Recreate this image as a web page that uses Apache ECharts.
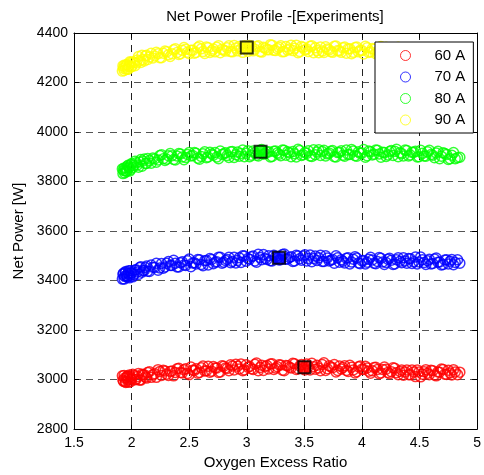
<!DOCTYPE html>
<html>
<head>
<meta charset="utf-8">
<title>Net Power Profile</title>
<script src="https://cdn.jsdelivr.net/npm/echarts@6/dist/echarts.min.js"></script>
<style>
    html, body { margin: 0; padding: 0; background: #fff; }
    #chart { width: 484px; height: 475px; }
</style>
</head>
<body>
<div id="chart"></div>
<script>
    // oxygen excess ratio of the samples, two sweeps
    var ratio = [1.92,1.93,1.94,1.95,1.96,1.97,1.98,1.99,2.00,2.02,
        2.04,2.06,2.08,2.10,2.12,2.14,2.17,2.20,2.23,2.26,
        2.29,2.32,2.35,2.38,2.41,2.44,2.47,2.50,2.53,2.56,
        2.59,2.62,2.65,2.68,2.71,2.74,2.77,2.80,2.83,2.86,
        2.89,2.92,2.95,2.98,3.01,3.04,3.07,3.10,3.13,3.16,
        3.19,3.22,3.25,3.28,3.31,3.34,3.37,3.40,3.43,3.46,
        3.49,3.52,3.55,3.58,3.61,3.64,3.67,3.70,3.73,3.76,
        3.79,3.82,3.85,3.88,3.91,3.94,3.97,4.00,4.03,4.06,
        4.09,4.12,4.15,4.18,4.21,4.24,4.27,4.30,4.33,4.36,
        4.39,4.42,4.45,4.48,4.51,4.54,4.57,4.60,4.63,4.66,
        4.69,4.72,4.75,4.78,4.81,4.85];
    var ratioB = [1.925,1.935,1.945,1.955,1.965,1.975,1.985,1.995,2.01,2.03,
        2.05,2.07,2.09,2.11,2.13,2.155,2.185,2.215,2.245,2.275,
        2.305,2.335,2.365,2.395,2.425,2.455,2.485,2.515,2.545,2.575,
        2.605,2.635,2.665,2.695,2.725,2.755,2.785,2.815,2.845,2.875,
        2.905,2.935,2.965,2.995,3.025,3.055,3.085,3.115,3.145,3.175,
        3.205,3.235,3.265,3.295,3.325,3.355,3.385,3.415,3.445,3.475,
        3.505,3.535,3.565,3.595,3.625,3.655,3.685,3.715,3.745,3.775,
        3.805,3.835,3.865,3.895,3.925,3.955,3.985,4.015,4.045,4.075,
        4.105,4.135,4.165,4.195,4.225,4.255,4.285,4.315,4.345,4.375,
        4.405,4.435,4.465,4.495,4.525,4.555,4.585,4.615,4.645,4.675,
        4.705,4.735,4.765,4.795,4.83];

    // net power [W], first sweep
    var power60 = [3015,2993,3006,2988,3012,3000,3019,2992,3005,3017,
        3001,3025,2998,3019,3010,3029,3009,3024,3040,3017,
        3035,3017,3035,3029,3046,3027,3044,3020,3038,3044,
        3029,3055,3036,3030,3053,3047,3031,3054,3045,3060,
        3039,3054,3063,3039,3050,3044,3062,3036,3058,3053,
        3043,3064,3047,3060,3038,3057,3050,3066,3041,3055,
        3044,3063,3039,3052,3058,3036,3068,3044,3051,3061,
        3037,3043,3056,3033,3050,3027,3052,3042,3054,3034,
        3036,3050,3024,3041,3042,3024,3048,3028,3033,3018,
        3039,3020,3031,3039,3011,3032,3026,3038,3019,3031,
        3043,3022,3038,3019,3031,3030];
    var power70 = [3406,3430,3417,3437,3416,3429,3411,3440,3430,3423,
        3444,3425,3456,3440,3453,3438,3463,3453,3442,3469,
        3455,3477,3461,3470,3455,3476,3461,3487,3471,3467,
        3484,3460,3481,3489,3468,3476,3494,3474,3485,3472,
        3494,3481,3473,3499,3489,3496,3479,3506,3484,3489,
        3500,3479,3496,3483,3505,3486,3493,3477,3502,3488,
        3499,3479,3503,3489,3481,3502,3477,3491,3482,3470,
        3492,3484,3471,3492,3475,3496,3471,3480,3467,3486,
        3483,3468,3493,3475,3473,3490,3465,3484,3478,3492,
        3470,3488,3476,3467,3495,3473,3480,3467,3487,3474,
        3463,3483,3467,3485,3473,3470];
    var power80 = [3851,3845,3835,3856,3843,3866,3858,3849,3873,3865,
        3876,3858,3889,3883,3873,3893,3874,3891,3887,3908,
        3885,3904,3904,3887,3913,3899,3897,3917,3905,3914,
        3890,3912,3896,3918,3906,3899,3923,3912,3905,3920,
        3897,3919,3913,3900,3924,3906,3917,3903,3929,3913,
        3920,3901,3923,3910,3927,3906,3916,3921,3899,3925,
        3908,3914,3903,3928,3919,3905,3926,3912,3922,3900,
        3917,3924,3902,3909,3929,3904,3920,3915,3898,3923,
        3907,3927,3911,3918,3901,3921,3905,3930,3916,3903,
        3925,3907,3918,3899,3926,3903,3920,3909,3896,3922,
        3902,3913,3889,3906,3892,3898];
    var power90 = [4246,4258,4271,4254,4272,4254,4267,4281,4264,4281,
        4279,4305,4281,4293,4308,4293,4318,4307,4316,4300,
        4327,4312,4316,4336,4313,4330,4334,4316,4330,4321,
        4347,4325,4343,4321,4335,4342,4320,4331,4340,4325,
        4350,4328,4336,4349,4326,4345,4334,4348,4323,4339,
        4332,4351,4329,4342,4324,4345,4335,4329,4351,4325,
        4341,4335,4346,4320,4329,4343,4321,4335,4325,4346,
        4329,4322,4343,4336,4316,4341,4324,4329,4346,4321,
        4337,4316,4332,4325,4342,4321,4337,4312,4326,4338,
        4316,4333,4322,4340,4312,4334,4316,4326,4337,4310,
        4329,4317,4340,4322,4335,4313];

    // net power [W], second sweep
    var power60B = [2997,3017,2991,3007,3014,2989,3011,3001,3022,2999,
        3012,2998,3022,3020,3006,3032,3020,3009,3033,3038,
        3022,3033,3015,3044,3029,3040,3025,3051,3037,3026,
        3048,3035,3054,3034,3047,3029,3056,3047,3036,3055,
        3062,3043,3036,3060,3053,3041,3067,3049,3037,3057,
        3063,3041,3052,3059,3036,3056,3047,3064,3044,3061,
        3039,3053,3066,3042,3047,3061,3037,3056,3048,3031,
        3055,3049,3037,3058,3039,3032,3055,3041,3047,3026,
        3049,3041,3027,3051,3029,3032,3046,3020,3039,3031,
        3020,3039,3012,3031,3022,3040,3020,3036,3015,3030,
        3041,3021,3027,3040,3020];
    var power70B = [3425,3406,3433,3419,3414,3440,3420,3432,3415,3443,
        3435,3453,3434,3441,3459,3437,3454,3470,3451,3450,
        3470,3461,3482,3455,3472,3463,3480,3456,3472,3485,
        3465,3480,3463,3485,3474,3494,3470,3481,3494,3477,
        3471,3492,3500,3478,3486,3499,3474,3493,3505,3485,
        3480,3502,3491,3484,3507,3487,3496,3479,3499,3482,
        3504,3489,3476,3499,3492,3477,3500,3479,3485,3500,
        3474,3478,3490,3467,3486,3491,3468,3481,3474,3494,
        3470,3477,3490,3465,3486,3482,3467,3492,3472,3479,
        3489,3469,3495,3475,3484,3465,3486,3469,3491,3475,
        3465,3484,3478,3464,3484];
    var power80B = [3832,3855,3844,3841,3863,3855,3843,3869,3857,3882,
        3867,3879,3862,3891,3873,3885,3895,3878,3905,3892,
        3890,3913,3889,3903,3911,3888,3909,3903,3917,3894,
        3901,3920,3899,3911,3917,3892,3909,3916,3897,3921,
        3908,3902,3927,3914,3900,3923,3906,3926,3910,3919,
        3899,3922,3915,3904,3926,3920,3900,3912,3930,3905,
        3917,3924,3901,3908,3928,3921,3903,3915,3925,3899,
        3918,3906,3927,3909,3923,3902,3914,3929,3904,3920,
        3910,3926,3898,3917,3907,3925,3922,3900,3913,3927,
        3903,3918,3922,3900,3914,3902,3926,3906,3915,3892,
        3916,3909,3892,3917,3896];
    var power90B = [4267,4249,4264,4271,4254,4267,4284,4264,4284,4268,
        4291,4287,4310,4287,4310,4303,4299,4322,4300,4318,
        4324,4305,4332,4321,4316,4341,4322,4330,4318,4341,
        4336,4317,4340,4328,4324,4349,4334,4327,4348,4324,
        4339,4345,4322,4335,4350,4328,4345,4325,4342,4333,
        4353,4330,4337,4348,4325,4331,4351,4338,4320,4345,
        4332,4325,4348,4340,4320,4327,4344,4332,4322,4347,
        4328,4340,4318,4336,4322,4343,4330,4315,4340,4324,
        4334,4317,4345,4326,4336,4317,4320,4342,4329,4314,
        4338,4322,4318,4339,4324,4335,4310,4329,4318,4340,
        4315,4321,4337,4311,4331];

    // highlighted operating point of each run
    var optRatio = [3.5, 3.28, 3.12, 3.0];
    var optPower = [3050, 3492, 3920, 4341];

    var names = ['60 A', '70 A', '80 A', '90 A'];
    var colors = ['#ff0000', '#0000ff', '#00ff00', '#ffff00'];
    var font = 'Liberation Sans, Arial, sans-serif';

    function pairs(xs, ys) {
        var out = [];
        for (var i = 0; i < xs.length; i++) {
            out.push([xs[i], ys[i]]);
        }
        return out;
    }

    var runsA = [power60, power70, power80, power90];
    var runsB = [power60B, power70B, power80B, power90B];
    var series = [];
    var legendData = [];
    for (var k = 0; k < runsA.length; k++) {
        series.push({
            name: names[k],
            type: 'scatter',
            symbol: 'circle',
            symbolSize: 10,
            itemStyle: { color: 'transparent', borderColor: colors[k], borderWidth: 1.5 },
            emphasis: { disabled: true },
            data: pairs(ratio, runsA[k]).concat(pairs(ratioB, runsB[k]))
        });
        legendData.push({
            name: names[k],
            icon: 'circle',
            itemStyle: { color: 'transparent', borderColor: colors[k], borderWidth: 1 }
        });
    }

    var optData = [];
    for (var m = 0; m < optRatio.length; m++) {
        optData.push({
            value: [optRatio[m], optPower[m]],
            itemStyle: { color: colors[m] }
        });
    }
    series.push({
        name: 'opt',
        type: 'scatter',
        symbol: 'rect',
        symbolSize: 12,
        z: 5,
        itemStyle: { borderColor: '#000', borderWidth: 2 },
        emphasis: { disabled: true },
        data: optData
    });

    var chart = echarts.init(document.getElementById('chart'));
    chart.setOption({
        animation: false,
        textStyle: { fontFamily: font },
        graphic: [{
            type: 'text',
            x: 275,
            y: 17,
            style: {
                text: 'Net Power Profile -[Experiments]',
                font: '15px ' + font,
                fill: '#000',
                textAlign: 'center',
                textVerticalAlign: 'middle'
            }
        }],
        legend: {
            orient: 'vertical',
            left: 375,
            top: 42,
            padding: [6, 8, 5.5, 25],
            itemWidth: 48,
            itemHeight: 10,
            itemGap: 6.5,
            backgroundColor: '#fff',
            borderColor: '#000',
            borderWidth: 1,
            selectedMode: false,
            textStyle: { fontSize: 15, color: '#000', fontFamily: font },
            data: legendData
        },
        grid: { left: 74, right: 5, top: 33, bottom: 42 },
        xAxis: [{
            type: 'value',
            min: 1.5,
            max: 5,
            interval: 0.5,
            name: 'Oxygen Excess Ratio',
            nameLocation: 'middle',
            nameGap: 25,
            nameTextStyle: { fontSize: 15, color: '#000' },
            axisLine: { lineStyle: { color: '#000', width: 1 } },
            axisTick: { inside: true, length: 5, lineStyle: { color: '#000' } },
            axisLabel: { fontSize: 14, color: '#000', margin: 7 },
            splitLine: { show: true, lineStyle: { color: '#222', type: [7, 5], width: 1 } }
        }, {
            type: 'value',
            position: 'top',
            min: 1.5,
            max: 5,
            interval: 0.5,
            axisLine: { show: true, lineStyle: { color: '#000', width: 1 } },
            axisTick: { show: true, inside: true, length: 5, lineStyle: { color: '#000' } },
            axisLabel: { show: false },
            splitLine: { show: false }
        }],
        yAxis: [{
            type: 'value',
            min: 2800,
            max: 4400,
            interval: 200,
            name: 'Net Power [W]',
            nameLocation: 'middle',
            nameGap: 41,
            nameTextStyle: { fontSize: 15, color: '#000' },
            axisLine: { show: true, lineStyle: { color: '#000', width: 1 } },
            axisTick: { show: true, inside: true, length: 5, lineStyle: { color: '#000' } },
            axisLabel: {
                fontSize: 14,
                color: '#000',
                margin: 6,
                formatter: function (v) { return String(v); }
            },
            splitLine: { show: true, lineStyle: { color: '#555', type: [7, 5], width: 1 } }
        }, {
            type: 'value',
            position: 'right',
            min: 2800,
            max: 4400,
            interval: 200,
            axisLine: { show: true, lineStyle: { color: '#000', width: 1 } },
            axisTick: { show: true, inside: true, length: 5, lineStyle: { color: '#000' } },
            axisLabel: { show: false },
            splitLine: { show: false }
        }],
        series: series
    });
</script>
</body>
</html>
